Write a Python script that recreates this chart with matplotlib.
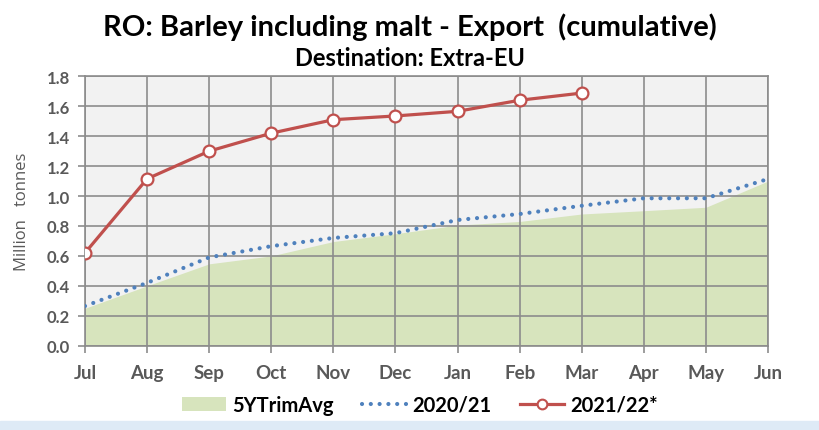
import matplotlib
matplotlib.use("Agg")
import matplotlib.pyplot as plt
from matplotlib.patches import Patch
from matplotlib.lines import Line2D

months = ["Jul", "Aug", "Sep", "Oct", "Nov", "Dec", "Jan", "Feb", "Mar", "Apr", "May", "Jun"]
avg5y = [0.25, 0.40, 0.547, 0.60, 0.696, 0.748, 0.806, 0.83, 0.88, 0.902, 0.925, 1.10]
y2020 = [0.265, 0.42, 0.59, 0.665, 0.72, 0.752, 0.84, 0.88, 0.935, 0.985, 0.985, 1.114]
y2021 = [0.62, 1.115, 1.30, 1.42, 1.51, 1.535, 1.566, 1.64, 1.688]
yticks = [0.0, 0.2, 0.4, 0.6, 0.8, 1.0, 1.2, 1.4, 1.6, 1.8]

W, H = 820, 431
fig = plt.figure(figsize=(W / 100, H / 100), dpi=100)
fig.patch.set_facecolor("white")

# light blue strip at the bottom of the image
fig.patches.append(plt.Rectangle((0, 0), 1, 9 / H, transform=fig.transFigure,
                                 color="#DEEAF6", zorder=0))

ax = fig.add_axes([85 / W, (H - 346.7) / H, (768 - 85) / W, (346.7 - 77.3) / H])
ax.set_facecolor("#F2F2F2")

x = list(range(len(months)))
ax.fill_between(x, avg5y, 0, color="#D7E4BD", lw=0, zorder=1)
ax.plot(x, y2020, color="#4F81BD", lw=3.0, linestyle=(0, (0.01, 2.1)),
        dash_capstyle="round", zorder=3)
ax.plot(x[:len(y2021)], y2021, color="#C0504D", lw=2.3, marker="o", ms=8.5,
        mfc="white", mec="#C0504D", mew=1.6, zorder=4)

ax.set_xlim(0, len(months) - 1)
ax.set_ylim(0, 1.8)
ax.set_xticks(x)
ax.set_xticklabels(months)
ax.set_yticks(yticks)
ax.set_yticklabels([f"{v:.1f}" for v in yticks])
ax.set_axisbelow("line")
ax.grid(True, color="#8C8C8C", lw=1.2)
for s in ax.spines.values():
    s.set_color("#8C8C8C")
    s.set_linewidth(1.2)
ax.tick_params(axis="both", colors="#8C8C8C", length=5, width=1.2)
ax.tick_params(axis="y", labelcolor="#595959", labelsize=12, pad=6)
ax.tick_params(axis="x", labelcolor="#595959", labelsize=13.5, pad=8)
for lab in ax.get_xticklabels() + ax.get_yticklabels():
    lab.set_fontweight("bold")
    lab.set_fontfamily("Lato")
ax.set_ylabel("Million   tonnes", color="#595959", fontsize=12, family="Open Sans", labelpad=12)

fig.text(0.5, 1 - 27 / H, "RO: Barley including malt - Export  (cumulative)", ha="center", va="center",
         fontsize=21, fontweight="bold", family="Lato")
fig.text(0.5, 1 - 59 / H, "Destination: Extra-EU", ha="center", va="center",
         fontsize=17, fontweight="bold", family="Lato")

handles = [Patch(facecolor="#D7E4BD", edgecolor="none"),
           Line2D([], [], color="#4F81BD", lw=3.0, linestyle=(0, (0.01, 2.1)), dash_capstyle="round"),
           Line2D([], [], color="#C0504D", lw=2.3, marker="o", ms=7, mfc="white", mec="#C0504D", mew=1.5)]
fig.legend(handles, ["5YTrimAvg", "2020/21", "2021/22*"], loc="center", ncol=3,
           bbox_to_anchor=(420 / W, 1 - 406 / H), frameon=False,
           prop={"family": "Lato", "weight": "bold", "size": 14.5},
           handlelength=2.2, handletextpad=0.3, columnspacing=1.4)

fig.savefig("out.png", dpi=100)
